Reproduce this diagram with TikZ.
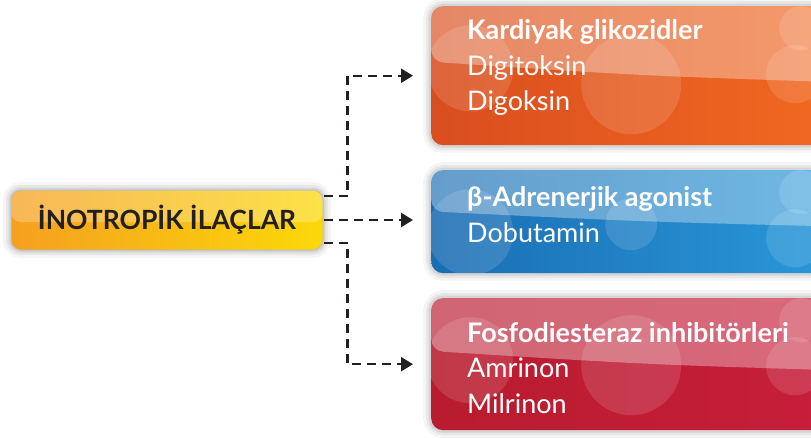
\documentclass[tikz,border=0pt]{standalone}
\usepackage{fontspec}
\setmainfont{Lato}
\usetikzlibrary{arrows.meta,positioning,calc}
\definecolor{korangeA}{HTML}{D94E1F}
\definecolor{korangeB}{HTML}{F26A21}
\definecolor{kblueA}{HTML}{1A6DB3}
\definecolor{kblueB}{HTML}{2A9ADB}
\definecolor{kredA}{HTML}{B81C2E}
\definecolor{kredB}{HTML}{C81E3C}
\definecolor{kyellowA}{HTML}{F5A01F}
\definecolor{kyellowB}{HTML}{FBD80A}
\definecolor{kink}{HTML}{231F20}
% gloss band and bubbles drawn inside a panel
\newcommand\panelgloss[2]{%
  \fill[white, opacity=.33]
    (path picture bounding box.north west)
    -- ($(path picture bounding box.north west)!.40!(path picture bounding box.south west)$)
    .. controls ($(path picture bounding box.north west)!.50!(path picture bounding box.south east)$)
    .. ($(path picture bounding box.north east)!.55!(path picture bounding box.south east)$)
    -- (path picture bounding box.north east) -- cycle;
  \fill[white, opacity=.13] ([shift={(39,62)}]path picture bounding box.north west) circle[radius=43pt];
  \fill[white, opacity=.13] ([shift={(200,#2)}]path picture bounding box.north west) circle[radius=#1];
  \fill[white, opacity=.13] ([shift={(364,68)}]path picture bounding box.north west) circle[radius=29pt];
  \fill[white, opacity=.13] ([shift={(370,22)}]path picture bounding box.north west) circle[radius=22pt];
}
\tikzset{
  shade3/.style = {preaction={draw=black, line width=16pt, opacity=.04},
                   preaction={draw=black, line width=10pt, opacity=.06},
                   preaction={draw=black, line width=5pt, opacity=.08}},
  panel/.style 2 args = {shade3, rectangle, rounded corners=12pt, anchor=north west,
                   minimum width=420pt, path picture={\panelgloss{#1}{#2}}},
  head/.style    = {anchor=base west, inner sep=0pt, text=white,
                   font=\bfseries\fontsize{27}{30}\selectfont},
  item/.style    = {anchor=base west, inner sep=0pt, text=white,
                   font=\fontsize{27}{30}\selectfont},
  root/.style    = {shade3, rectangle, rounded corners=10pt, minimum width=312pt,
                   minimum height=60pt, draw=black!25, line width=1pt,
                   left color=kyellowA, right color=kyellowB, text=kink,
                   font=\bfseries\fontsize{26.5}{28}\selectfont,
                   path picture={\fill[white, opacity=.25]
                     (path picture bounding box.north west) rectangle
                     ($(path picture bounding box.east)+(0,2)$);}},
  conn/.style    = {line width=2.4pt, kink, dash pattern=on 9pt off 6pt,
                   -{Triangle[length=12pt, width=14pt]}, shorten >=18pt},
}
\begin{document}
\begin{tikzpicture}[x=1pt, y=-1pt]
\useasboundingbox (0,0) rectangle (811,437);
% ---- root ----
\node[root] (ino) at (167,220) {İNOTROPİK İLAÇLAR};
% ---- groups ----
\node[panel={50pt}{78}, left color=korangeA, right color=korangeB,
      minimum height=139pt] (kard) at (431,6) {};
\node[panel={26pt}{54}, left color=kblueA, right color=kblueB,
      minimum height=103pt] (beta) at (431,170) {};
\node[panel={50pt}{67}, left color=kredA, right color=kredB,
      minimum height=132pt] (fosf) at (431,298) {};
% ---- texts ----
\node[head] (kardh) at (467,39)  {Kardiyak glikozidler};
\node[item] (kard1) at (467,75)  {Digitoksin};
\node[item] (kard2) at (467,110) {Digoksin};
\node[head] (betah) at (467,206) {β-Adrenerjik agonist};
\node[item] (beta1) at (467,242) {Dobutamin};
\node[head] (fosfh) at (467,342) {Fosfodiesteraz inhibitörleri};
\node[item] (fosf1) at (467,377) {Amrinon};
\node[item] (fosf2) at (467,413) {Milrinon};
% ---- links ----
\draw[conn] ([yshift=24pt]ino.east) -- ++(24,0) |- (kard);
\draw[conn] (ino.east) -- (ino.east -| beta.west);
\draw[conn] ([yshift=-23pt]ino.east) -- ++(24,0) |- (fosf);
\end{tikzpicture}
\end{document}
